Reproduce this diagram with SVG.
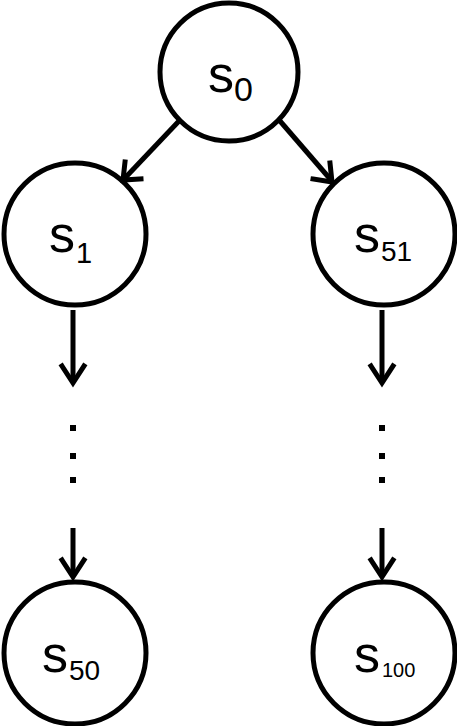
<svg xmlns="http://www.w3.org/2000/svg" width="457" height="726" viewBox="0 0 457 726">
<style>
.node{fill:#fff;stroke:#000;stroke-width:5}
.lbl{font-family:"Liberation Sans",Arial,sans-serif;fill:#000}
.edge{stroke:#000;stroke-width:5;fill:none}
.head{stroke:#000;stroke-width:5;fill:none;stroke-linecap:square;stroke-linejoin:miter}
.dot{fill:#000}
</style>
<rect width="457" height="726" fill="#fff"/>
<g id="s0"><circle class="node" cx="229" cy="72" r="69"/><text class="lbl" x="208" y="92" font-size="52">s</text><text class="lbl" x="234" y="101" font-size="34">0</text></g>
<g id="s1"><circle class="node" cx="75" cy="234" r="71"/><text class="lbl" x="49" y="252" font-size="52">s</text><text class="lbl" x="76" y="263" font-size="29">1</text></g>
<g id="s51"><circle class="node" cx="384" cy="234" r="71"/><text class="lbl" x="354" y="252" font-size="52">s</text><text class="lbl" x="381" y="261" font-size="28">51</text></g>
<g id="s50"><circle class="node" cx="75" cy="653" r="71"/><text class="lbl" x="42" y="672" font-size="52">s</text><text class="lbl" x="69" y="680" font-size="28">50</text></g>
<g id="s100"><circle class="node" cx="384" cy="653" r="71"/><text class="lbl" x="354" y="672" font-size="52">s</text><text class="lbl" x="382" y="677" font-size="20">100</text></g>
<g id="connectors">
<line class="edge" x1="179" y1="121" x2="124" y2="179"/>
<polyline class="head" points="125,162 123,180 141,179"/>
<line class="edge" x1="280" y1="121" x2="331" y2="180"/>
<polyline class="head" points="313,179 332,182 330,163"/>
<line class="edge" x1="73" y1="310" x2="73" y2="383"/>
<polyline class="head" points="62,366 73,383 84,366"/>
<line class="edge" x1="73" y1="528" x2="73" y2="577"/>
<polyline class="head" points="62,560 73,577 84,560"/>
<line class="edge" x1="382" y1="310" x2="382" y2="383"/>
<polyline class="head" points="371,366 382,383 393,366"/>
<line class="edge" x1="382" y1="528" x2="382" y2="577"/>
<polyline class="head" points="371,560 382,577 393,560"/>
</g>
<g id="dots">
<rect class="dot" x="70" y="425" width="6" height="6"/>
<rect class="dot" x="70" y="453" width="6" height="6"/>
<rect class="dot" x="70" y="477" width="6" height="6"/>
<rect class="dot" x="379" y="425" width="6" height="6"/>
<rect class="dot" x="379" y="453" width="6" height="6"/>
<rect class="dot" x="379" y="477" width="6" height="6"/>
</g>
</svg>
